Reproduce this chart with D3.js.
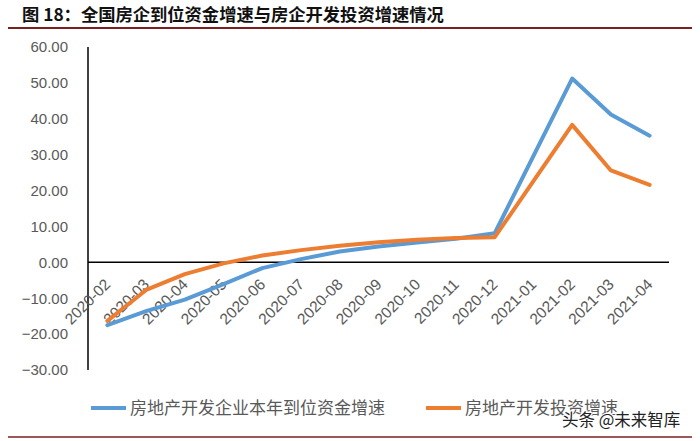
<!DOCTYPE html>
<html>
<head>
<meta charset="utf-8">
<script src="https://cdn.jsdelivr.net/npm/d3@7/dist/d3.min.js"></script>
<style>
  html, body { margin: 0; padding: 0; background: #fff; }
  svg { display: block; }
</style>
</head>
<body>
<svg id="chart" width="700" height="441"></svg>
<script>
const titleText = "图 18：全国房企到位资金增速与房企开发投资增速情况";
const categories = ["2020-02","2020-03","2020-04","2020-05","2020-06","2020-07","2020-08","2020-09","2020-10","2020-11","2020-12","2021-01","2021-02","2021-03","2021-04"];
const fundsGrowth = [-17.5, -13.6, -10.4, -6.1, -1.6, 0.9, 3.0, 4.4, 5.5, 6.6, 8.1, null, 51.2, 41.2, 35.3];
const investGrowth = [-16.3, -7.7, -3.3, -0.3, 1.9, 3.4, 4.6, 5.6, 6.3, 6.8, 7.0, null, 38.3, 25.6, 21.6];
const seriesNames = ["房地产开发企业本年到位资金增速", "房地产开发投资增速"];
const seriesColors = ["#5B9BD5", "#ED7D31"];
const yTicks = [60, 50, 40, 30, 20, 10, 0, -10, -20, -30];
const watermark = "头条 @未来智库";

const svg = d3.select("#chart");
const cjk = "'Noto Sans CJK SC', 'Noto Sans', sans-serif";
const num = "'Liberation Sans', Arial, sans-serif";

// Title
svg.append("text")
  .attr("x", 22).attr("y", 21)
  .attr("font-family", cjk).attr("font-weight", "bold")
  .attr("font-size", 17.3).attr("fill", "#111")
  .text(titleText);
svg.append("line")
  .attr("x1", 8).attr("x2", 692).attr("y1", 28).attr("y2", 28)
  .attr("stroke", "#7b1f1f").attr("stroke-width", 2);
svg.append("line")
  .attr("x1", 8).attr("x2", 692).attr("y1", 437).attr("y2", 437)
  .attr("stroke", "#7b1f1f").attr("stroke-width", 1.5);

// Scales
const x = d3.scaleBand().domain(categories).range([88, 669]);
const y = d3.scaleLinear().domain([-30, 60]).range([370, 47]);

// Y axis labels
const yAxis = d3.axisLeft(y).tickValues(yTicks).tickFormat(d3.format(".2f")).tickSize(0).tickPadding(20);
const gy = svg.append("g").attr("transform", "translate(88,0)").call(yAxis);
gy.select(".domain").remove();
gy.selectAll("text")
  .attr("font-family", num).attr("font-size", 15).attr("fill", "#595959");

// Axis lines
svg.append("line")
  .attr("x1", 88).attr("x2", 88).attr("y1", y(60)).attr("y2", y(-30))
  .attr("stroke", "#000").attr("stroke-width", 1.5);
svg.append("line")
  .attr("x1", 88).attr("x2", 669).attr("y1", y(0)).attr("y2", y(0))
  .attr("stroke", "#000").attr("stroke-width", 1.5);

// X labels
const xAxis = d3.axisBottom(x).tickSize(0).tickPadding(0);
const gx = svg.append("g").attr("transform", `translate(0,${y(0)})`).call(xAxis);
gx.select(".domain").remove();
gx.selectAll("text")
  .attr("font-family", num).attr("font-size", 15.5).attr("fill", "#595959")
  .attr("text-anchor", "end")
  .attr("dy", null).attr("y", 0)
  .attr("transform", "translate(4,23) rotate(-45)");

// Lines
const line = d3.line()
  .x(d => x(d.c) + x.bandwidth() / 2)
  .y(d => y(d.v));
[fundsGrowth, investGrowth].forEach((vals, i) => {
  const pts = categories.map((c, j) => ({c, v: vals[j]})).filter(d => d.v !== null);
  svg.append("path")
    .attr("d", line(pts))
    .attr("fill", "none")
    .attr("stroke", seriesColors[i])
    .attr("stroke-width", 4)
    .attr("stroke-linejoin", "round")
    .attr("stroke-linecap", "round");
});

// Legend
const legendX = [91, 426];
seriesNames.forEach((name, i) => {
  svg.append("line")
    .attr("x1", legendX[i]).attr("x2", legendX[i] + 35)
    .attr("y1", 408).attr("y2", 408)
    .attr("stroke", seriesColors[i]).attr("stroke-width", 4);
  svg.append("text")
    .attr("x", legendX[i] + 39).attr("y", 414)
    .attr("font-family", cjk).attr("font-size", 17).attr("fill", "#595959")
    .text(name);
});

// Watermark
svg.append("text")
  .attr("x", 562).attr("y", 426)
  .attr("font-family", cjk).attr("font-size", 16.5).attr("fill", "#222")
  .attr("stroke", "#fff").attr("stroke-width", 2.5).attr("paint-order", "stroke")
  .text(watermark);
</script>
</body>
</html>
